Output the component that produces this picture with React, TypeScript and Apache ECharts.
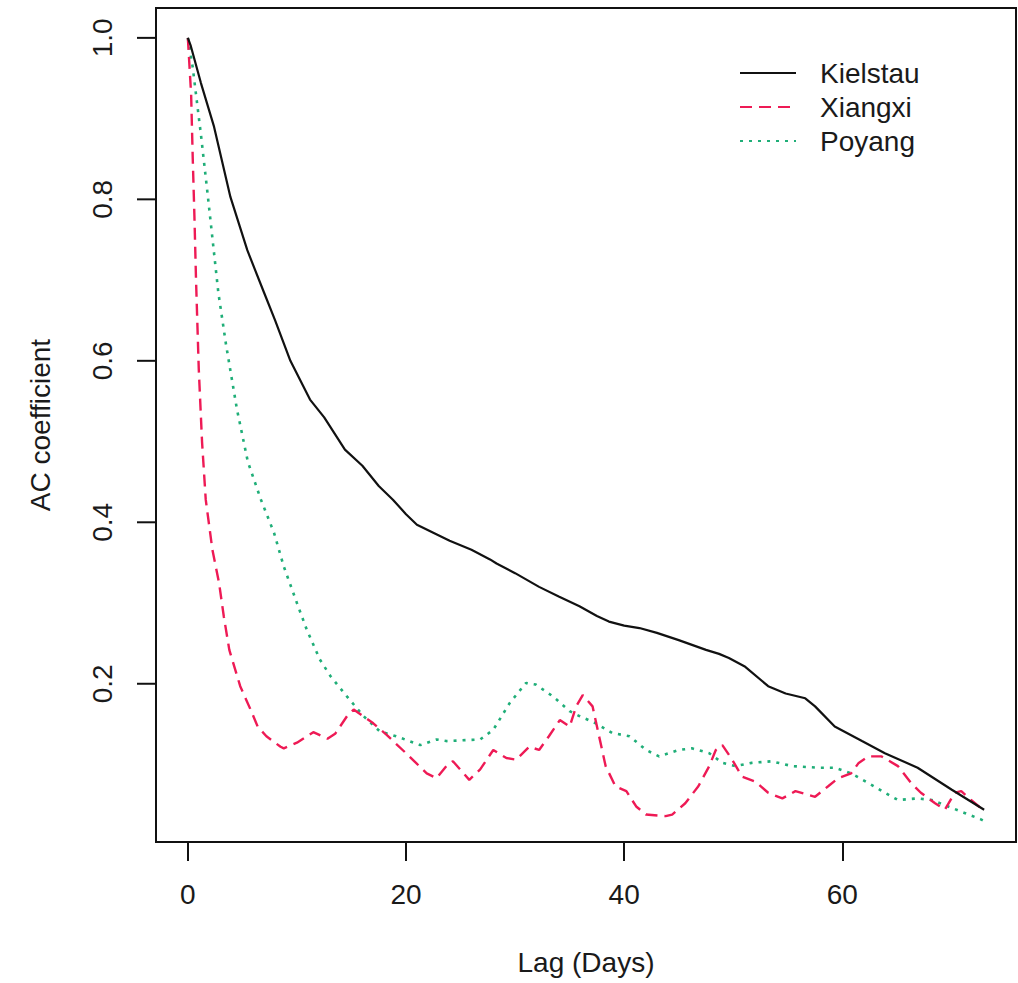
import React, { useEffect, useRef } from "react";
import * as echarts from "echarts";

// ---- data ----
const seriesNames = ["Kielstau", "Xiangxi", "Poyang"];

const kielstauLag = [0, 0.27, 1.2, 2.4, 3.9, 5.45, 7, 8, 9.4, 11.2, 12.5, 14.4, 16, 17.5, 18.8, 20, 21, 22.5, 24, 26, 27.7, 28.3, 30, 32.2, 34, 35.9, 37.5, 38.6, 40, 41.4, 43, 45, 47.5, 48.7, 49.6, 51.1, 53.2, 54.8, 56.6, 57.5, 59.3, 61.8, 63.9, 66.9, 70, 73];
const kielstauAC = [1.0, 0.99, 0.944, 0.89, 0.803, 0.737, 0.684, 0.65, 0.6, 0.552, 0.53, 0.49, 0.47, 0.445, 0.428, 0.41, 0.397, 0.387, 0.377, 0.366, 0.354, 0.349, 0.337, 0.32, 0.308, 0.296, 0.284, 0.277, 0.272, 0.269, 0.263, 0.254, 0.242, 0.237, 0.232, 0.221, 0.197, 0.188, 0.182, 0.172, 0.147, 0.129, 0.114, 0.096, 0.069, 0.044];

const xiangxiLag = [0, 0.3, 0.45, 0.6, 0.75, 1.0, 1.3, 1.64, 2.25, 2.86, 3.3, 3.8, 4.8, 5.75, 6.4, 7.2, 8.5, 8.8, 10, 11.5, 12.8, 13.5, 14.6, 15.2, 17, 18.2, 20, 21.9, 22.8, 23.7, 24.3, 25.8, 26.8, 28, 29.2, 30.1, 31.3, 32.2, 33.1, 34.1, 35, 35.6, 36.2, 37.1, 37.7, 38.3, 39.2, 40.2, 41.1, 42, 43.8, 44.4, 45.6, 46.8, 47.8, 48.4, 49, 49.9, 50.8, 52, 53.2, 54.5, 55.7, 57.5, 58.7, 59.6, 60.8, 61.5, 62.4, 63.6, 65.1, 66.3, 67.2, 68.5, 69.4, 70.3, 70.9, 71.8, 72.7, 73];
const xiangxiAC = [1.0, 0.93, 0.85, 0.78, 0.7, 0.59, 0.5, 0.428, 0.366, 0.325, 0.283, 0.242, 0.197, 0.168, 0.147, 0.135, 0.122, 0.12, 0.127, 0.14, 0.132, 0.138, 0.16, 0.168, 0.151, 0.137, 0.114, 0.089, 0.083, 0.098, 0.104, 0.081, 0.094, 0.118, 0.108, 0.106, 0.122, 0.118, 0.135, 0.155, 0.147, 0.172, 0.186, 0.172, 0.135, 0.098, 0.073, 0.067, 0.048, 0.038, 0.036, 0.038, 0.052, 0.073, 0.098, 0.118, 0.124, 0.106, 0.085, 0.079, 0.065, 0.058, 0.067, 0.06, 0.073, 0.083, 0.089, 0.102, 0.11, 0.11, 0.098, 0.077, 0.065, 0.052, 0.044, 0.065, 0.067, 0.056, 0.046, 0.045];

const poyangLag = [0, 0.43, 1.2, 1.8, 2.8, 3.5, 4.5, 5.5, 6.7, 7.9, 8.8, 10, 10.9, 12.1, 13.1, 14.6, 16.1, 17.6, 19.1, 21.3, 22.8, 23.7, 26.8, 28, 29.5, 31, 31.9, 33.5, 35, 35.9, 37.4, 38.9, 40.5, 42, 43.2, 45, 46.2, 47.8, 49, 50.2, 51.7, 53.5, 55.4, 57.8, 59.3, 60.8, 62.4, 63.9, 65.1, 66.9, 68.2, 69.7, 71.2, 72.7, 73];
const poyangAC = [1.0, 0.965, 0.88, 0.808, 0.684, 0.62, 0.54, 0.475, 0.428, 0.387, 0.345, 0.3, 0.267, 0.23, 0.209, 0.184, 0.16, 0.141, 0.135, 0.124, 0.131, 0.129, 0.131, 0.143, 0.176, 0.201, 0.199, 0.184, 0.166, 0.16, 0.151, 0.139, 0.135, 0.118, 0.11, 0.118, 0.12, 0.114, 0.102, 0.098, 0.102, 0.104, 0.098, 0.096, 0.096, 0.089, 0.077, 0.065, 0.056, 0.058, 0.056, 0.048, 0.04, 0.032, 0.03];

const xTicks = [0, 20, 40, 60];
const yTicks = [0.2, 0.4, 0.6, 0.8, 1.0];
const xTitle = "Lag (Days)";
const yTitle = "AC coefficient";

const X_MIN = -2.92;
const X_MAX = 75.92;
const Y_MIN = 0.004;
const Y_MAX = 1.037;

const FONT = "'Liberation Sans', Arial, sans-serif";
const TEXT = "#1a1a1a";
const TICK_LEN = 19;

const pairs = (xs: number[], ys: number[]) => xs.map((x, i) => [x, ys[i]]);

export default function App() {
  const ref = useRef<HTMLDivElement>(null);

  useEffect(() => {
    if (!ref.current) return;
    const chart = echarts.init(ref.current, null, { renderer: "svg" });
    chart.setOption({
      animation: false,
      backgroundColor: "#ffffff",
      grid: {
        left: 156,
        right: 2,
        top: 8,
        bottom: 141,
        show: true,
        borderColor: "#111",
        borderWidth: 2,
        backgroundColor: "transparent",
        containLabel: false,
        outerBoundsMode: "none",
      },
      legend: {
        data: seriesNames,
        orient: "vertical",
        left: 734,
        top: 54,
        itemWidth: 56,
        itemHeight: 20,
        itemGap: 6,
        selectedMode: false,
        itemStyle: { opacity: 0 },
        textStyle: { fontSize: 28, fontFamily: FONT, color: TEXT, padding: [0, 0, 0, 19] },
      },
      xAxis: {
        type: "value",
        position: "bottom",
        min: X_MIN,
        max: X_MAX,
        name: xTitle,
        nameLocation: "middle",
        nameGap: 106,
        nameTextStyle: { fontSize: 28, fontFamily: FONT, color: TEXT },
        axisLine: { show: false, onZero: false },
        splitLine: { show: false },
        axisTick: {
          show: true,
          inside: false,
          length: TICK_LEN,
          customValues: xTicks,
          lineStyle: { color: "#111", width: 2 },
        },
        axisLabel: {
          customValues: xTicks,
          margin: 38,
          fontSize: 28,
          fontFamily: FONT,
          color: TEXT,
          formatter: (v: number) => String(v),
        },
      },
      yAxis: {
        type: "value",
        position: "left",
        min: Y_MIN,
        max: Y_MAX,
        name: yTitle,
        nameLocation: "middle",
        nameGap: 102,
        nameRotate: 90,
        nameTextStyle: { fontSize: 28, fontFamily: FONT, color: TEXT },
        axisLine: { show: false, onZero: false },
        splitLine: { show: false },
        axisTick: { show: false },
        axisLabel: {
          customValues: yTicks,
          rotate: 90,
          margin: 40,
          fontSize: 28,
          fontFamily: FONT,
          color: TEXT,
          formatter: (v: number) => v.toFixed(1),
        },
      },
      series: [
        {
          name: seriesNames[0],
          type: "line",
          symbol: "none",
          data: pairs(kielstauLag, kielstauAC),
          lineStyle: { color: "#111111", width: 2.2, type: "solid" },
          itemStyle: { color: "#111111" },
          z: 3,
        },
        {
          name: seriesNames[1],
          type: "line",
          symbol: "none",
          data: pairs(xiangxiLag, xiangxiAC),
          lineStyle: { color: "#ee1a55", width: 2.4, type: [12, 7] },
          itemStyle: { color: "#ee1a55" },
          z: 2,
        },
        {
          name: seriesNames[2],
          type: "line",
          symbol: "none",
          data: pairs(poyangLag, poyangAC),
          lineStyle: { color: "#1fae78", width: 2.6, type: [3, 6] },
          itemStyle: { color: "#1fae78" },
          z: 1,
        },
      ],
    });

    // y-axis tick marks, positioned through the chart's own scale
    try {
      const tickEls = yTicks.map((v) => {
        const p = chart.convertToPixel({ gridIndex: 0 }, [X_MIN, v]) as number[];
        const x0 = Math.round(p[0]);
        const y0 = p[1];
        return {
          type: "line",
          silent: true,
          z: 10,
          shape: { x1: x0 - TICK_LEN, y1: y0, x2: x0, y2: y0 },
          style: { stroke: "#111", lineWidth: 2 },
        };
      });
      chart.setOption({ graphic: tickEls });
    } catch (e) {
      // ignore
    }

    return () => chart.dispose();
  }, []);

  return (
    <div
      ref={ref}
      style={{ position: "absolute", left: 0, top: 0, width: 1018, height: 983, background: "#fff" }}
    />
  );
}
